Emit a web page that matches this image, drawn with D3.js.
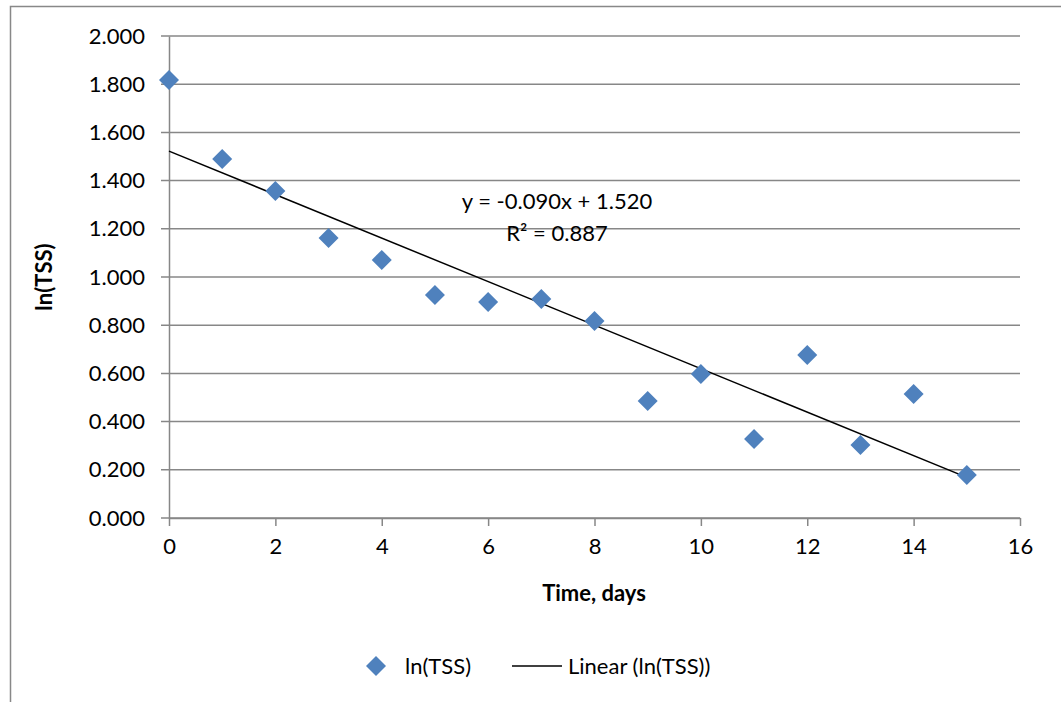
<!DOCTYPE html>
<html>
<head>
<meta charset="utf-8">
<script src="https://cdn.jsdelivr.net/npm/d3@7"></script>
<style>
    body { margin: 0; background: #fff; }
    text { font-family: Lato, "Open Sans", sans-serif; fill: #000; }
</style>
</head>
<body>
<div id="chart"></div>
<script>
// data
let days = [0, 1, 2, 3, 4, 5, 6, 7, 8, 9, 10, 11, 12, 13, 14, 15];
let lnTSS = [1.817, 1.490, 1.357, 1.162, 1.071, 0.925, 0.896, 0.909, 0.817, 0.485, 0.598, 0.328, 0.676, 0.303, 0.515, 0.178];
let xTicks = [0, 2, 4, 6, 8, 10, 12, 14, 16];
let yTicks = [0, 0.2, 0.4, 0.6, 0.8, 1.0, 1.2, 1.4, 1.6, 1.8, 2.0];

(function () {
    let W = 1061, H = 702;
    let fs = '22px';
    let svg = d3.select('#chart').append('svg')
        .attr('width', W)
        .attr('height', H);

    // outer frame (right/bottom are cut off in the picture)
    svg.append('path')
        .attr('d', 'M10.5,' + H + 'V6.5H' + W)
        .attr('fill', 'none')
        .attr('stroke', '#888')
        .attr('stroke-width', 1.5);

    let left = 169, right = 1020, top = 36, bottom = 518;

    let x = d3.scaleLinear().domain([0, 16]).range([left, right]);
    let y = d3.scaleLinear().domain([0, 2]).range([bottom, top]);

    // horizontal gridlines
    svg.append('g')
        .selectAll('line')
        .data(yTicks)
        .enter()
        .append('line')
        .attr('x1', left - 8)
        .attr('x2', right)
        .attr('y1', function (d) { return y(d); })
        .attr('y2', function (d) { return y(d); })
        .attr('stroke', '#878787')
        .attr('stroke-width', 1.5);

    // y axis
    let axisY = d3.axisLeft(y)
        .tickValues(yTicks)
        .tickFormat(d3.format('.3f'))
        .tickSize(0)
        .tickPadding(24);
    let gy = svg.append('g')
        .attr('transform', 'translate(' + left + ',0)')
        .call(axisY);
    gy.select('.domain').attr('stroke', '#878787').attr('stroke-width', 1.5);
    gy.selectAll('text').style('font-size', fs).attr('fill', '#000');

    // x axis
    let axisX = d3.axisBottom(x)
        .tickValues(xTicks)
        .tickSize(8)
        .tickSizeOuter(0)
        .tickPadding(12);
    let gx = svg.append('g')
        .attr('transform', 'translate(0,' + bottom + ')')
        .call(axisX);
    gx.select('.domain').attr('stroke', '#878787').attr('stroke-width', 1.5);
    gx.selectAll('.tick line').attr('stroke', '#878787').attr('stroke-width', 1.5);
    gx.selectAll('text').style('font-size', fs).attr('fill', '#000');

    // least squares trend line
    let mx = d3.mean(days), my = d3.mean(lnTSS);
    let sxy = d3.sum(days, function (d, i) { return (d - mx) * (lnTSS[i] - my); });
    let sxx = d3.sum(days, function (d) { return (d - mx) * (d - mx); });
    let slope = sxy / sxx;
    let intercept = my - slope * mx;
    let x0 = d3.min(days), x1 = d3.max(days);
    svg.append('line')
        .attr('x1', x(x0))
        .attr('y1', y(intercept + slope * x0))
        .attr('x2', x(x1))
        .attr('y2', y(intercept + slope * x1))
        .attr('stroke', '#000')
        .attr('stroke-width', 1.5);

    // diamonds
    let diamond = 'M0,-10L10,0L0,10L-10,0Z';
    svg.append('g')
        .selectAll('path')
        .data(days)
        .enter()
        .append('path')
        .attr('d', diamond)
        .attr('transform', function (d, i) {
            return 'translate(' + x(d) + ',' + y(lnTSS[i]) + ')';
        })
        .attr('fill', '#4F81BD');

    // equation label
    let eq = svg.append('g').style('font-size', fs).attr('text-anchor', 'middle');
    eq.append('text').attr('x', 557).attr('y', 209).text('y = -0.090x + 1.520');
    eq.append('text').attr('x', 557).attr('y', 241).text('R² = 0.887');

    // axis titles
    svg.append('text')
        .attr('x', 594)
        .attr('y', 601)
        .attr('text-anchor', 'middle')
        .style('font-size', fs)
        .style('font-weight', 'bold')
        .text('Time, days');

    svg.append('text')
        .attr('transform', 'translate(52,' + ((top + bottom) / 2) + ') rotate(-90)')
        .attr('text-anchor', 'middle')
        .style('font-size', fs)
        .style('font-weight', 'bold')
        .text('ln(TSS)');

    // legend
    let lg = svg.append('g').style('font-size', fs);
    lg.append('path')
        .attr('d', diamond)
        .attr('transform', 'translate(376,666)')
        .attr('fill', '#4F81BD');
    lg.append('text').attr('x', 405).attr('y', 674).text('ln(TSS)');
    lg.append('line')
        .attr('x1', 512).attr('x2', 562)
        .attr('y1', 666).attr('y2', 666)
        .attr('stroke', '#000').attr('stroke-width', 1.5);
    lg.append('text').attr('x', 568).attr('y', 674).text('Linear (ln(TSS))');
})();
</script>
</body>
</html>
